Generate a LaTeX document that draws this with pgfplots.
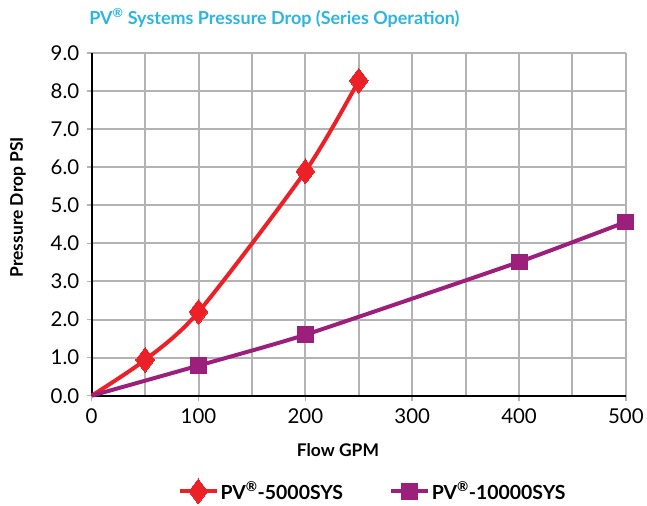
\documentclass[border=0pt]{standalone}
\usepackage{pgfplots}
\pgfplotsset{compat=1.18}
\usepackage{fontspec}
\setmainfont{Lato}
\definecolor{cRed}{HTML}{EC2027}
\definecolor{cPur}{HTML}{9C1F7B}
\definecolor{cCyan}{HTML}{2BB6E0}
\definecolor{cGrid}{HTML}{B3B3B5}
\begin{document}
\begin{tikzpicture}
\begin{axis}[
  scale only axis, width=536pt, height=344pt,
  xmin=0, xmax=500, ymin=0, ymax=9,
  clip=false,
  axis lines=left, axis line style={-, line width=2.2pt, black},
  xtick={0,100,...,500}, minor xtick={50,150,...,450},
  ytick={0,1,...,9},
  grid=both,
  major grid style={line width=2pt, cGrid},
  minor grid style={line width=2pt, cGrid},
  tick style={line width=1.5pt, cGrid},
  tick align=outside, major tick length=5pt, minor tick length=0pt,
  /pgf/number format/assume math mode=true,
  yticklabel style={/pgf/number format/fixed, /pgf/number format/fixed zerofill, /pgf/number format/precision=1, xshift=-4pt},
  xticklabel style={/pgf/number format/fixed, /pgf/number format/precision=0, yshift=-5pt},
  ticklabel style={font=\fontsize{20.5}{20.5}\selectfont},
  legend columns=2,
  legend style={draw=none, fill=none, at={(rel axis cs:0.526,-0.279)}, anchor=center,
    font=\bfseries\fontsize{19.5}{19.5}\selectfont,
    /tikz/every even column/.append style={column sep=44pt}},
  legend image code/.code={\draw[#1, mark indices={2}] plot coordinates {(0pt,0pt) (18.5pt,0pt) (37pt,0pt)};},
]
\addplot[cRed, line width=4pt, smooth, tension=0.45, mark=diamond*, mark size=12.5pt, mark indices={2,3,4,5}, mark options={solid, fill=cRed, line width=0pt}]
  coordinates {(0,0) (50,0.94) (100,2.2) (200,5.89) (250,8.27)};
\addlegendentry{PV\textsuperscript{®}-5000SYS}
\addplot[cPur, line width=4pt, smooth, tension=0.3, mark=square*, mark size=8pt, mark indices={2,3,4,5}, mark options={solid, fill=cPur, line width=0pt}]
  coordinates {(0,0) (100,0.79) (200,1.6) (400,3.51) (500,4.56)};
\addlegendentry{PV\textsuperscript{®}-10000SYS}
\node[font=\bfseries\fontsize{18}{18}\selectfont, text=cCyan] at (rel axis cs:0.342,1.102) {PV\textsuperscript{®} Systems Pressure Drop (Series Operation)};
\node[font=\bfseries\fontsize{17.5}{17.5}\selectfont] at (rel axis cs:0.461,-0.16) {Flow GPM};
\node[font=\bfseries\fontsize{17.5}{17.5}\selectfont, rotate=90] at (rel axis cs:-0.138,0.55) {Pressure Drop PSI};
\path[use as bounding box] (rel axis cs:-0.1716,-0.3169) rectangle (rel axis cs:1.0354,1.1541);
\end{axis}
\end{tikzpicture}
\end{document}
